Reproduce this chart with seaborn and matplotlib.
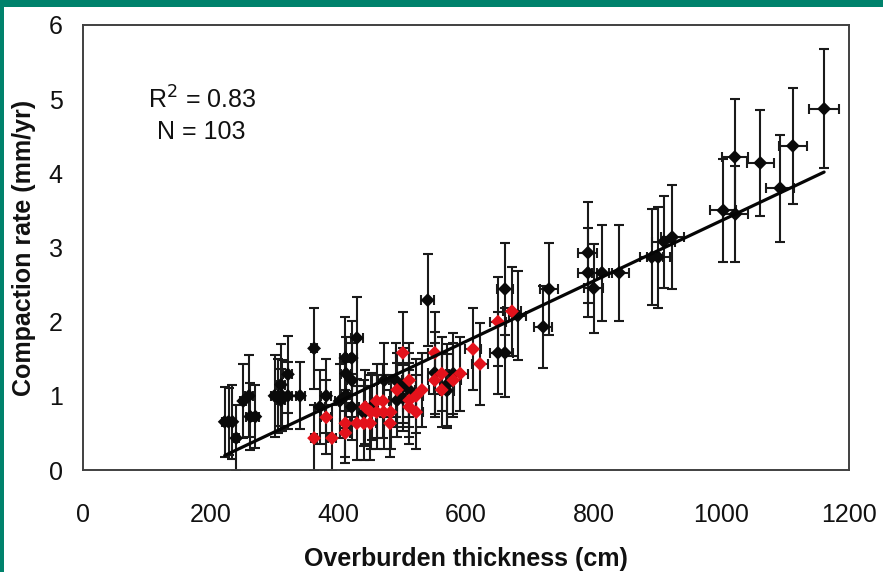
import numpy as np
import pandas as pd
import matplotlib
matplotlib.use("Agg")
import matplotlib.pyplot as plt
import seaborn as sns
from matplotlib.patches import Rectangle

# ---------------- data ----------------
black_x = [222, 228, 234, 240, 251, 260, 262, 270, 300, 306, 312, 310, 310, 321, 321,
           340, 362, 371, 381, 402, 411, 421, 412, 421, 412, 421, 429, 440, 453, 472,
           490, 501, 492, 501, 511, 540, 551, 570, 570, 580, 650, 661, 661, 681, 721,
           730, 791, 791, 800, 813, 840, 891, 901, 910, 923, 1003, 1021, 1022, 1061,
           1092, 1112, 1161]
black_y = [0.65, 0.65, 0.65, 0.43, 0.93, 1.00, 0.72, 0.72, 1.00, 1.00, 1.00, 0.94, 1.15, 1.29, 1.00,
           1.00, 1.64, 0.85, 1.00, 0.93, 1.51, 1.51, 1.30, 1.21, 1.01, 0.85, 1.78, 0.77, 0.86, 1.21,
           1.21, 1.14, 0.94, 0.97, 1.08, 2.29, 1.31, 1.15, 1.07, 1.30, 1.58, 1.58, 2.44, 2.08, 1.93,
           2.44, 2.93, 2.66, 2.45, 2.66, 2.66, 2.87, 2.87, 3.08, 3.14, 3.50, 4.22, 3.45, 4.14,
           3.80, 4.37, 4.87]
black_xerr = [5, 5, 5, 5, 5, 6, 6, 6, 6, 6, 7, 7, 7, 7, 7,
              7, 5, 8, 8, 8, 8, 8, 8, 8, 8, 8, 9, 9, 9, 10,
              10, 10, 10, 10, 10, 10, 11, 11, 11, 11, 13, 13, 13, 13, 14,
              14, 15, 15, 15, 16, 16, 18, 18, 18, 18, 20, 20, 20, 21,
              22, 22, 23]
black_yerr = [0.47, 0.45, 0.50, 0.45, 0.50, 0.55, 0.45, 0.42, 0.55, 0.50, 0.48, 0.42, 0.55, 0.52, 0.45,
              0.45, 0.55, 0.50, 0.50, 0.50, 0.55, 0.50, 0.50, 0.50, 0.45, 0.45, 0.55, 0.45, 0.45, 0.50,
              0.50, 0.50, 0.50, 0.45, 0.50, 0.62, 0.55, 0.55, 0.50, 0.55, 0.55, 0.60, 0.62, 0.60, 0.55,
              0.62, 0.68, 0.60, 0.60, 0.65, 0.65, 0.65, 0.68, 0.62, 0.70, 0.70, 0.78, 0.65, 0.72,
              0.72, 0.78, 0.80]

red_x = [362, 381, 390, 411, 411, 429, 440, 450, 442, 460, 470, 451, 460, 471, 482, 481,
         501, 511, 511, 522, 511, 522, 531, 492, 551, 551, 562, 562, 580, 591, 611, 622,
         650, 672]
red_y = [0.43, 0.71, 0.43, 0.63, 0.50, 0.63, 0.63, 0.63, 0.85, 0.93, 0.93, 0.78, 0.78, 0.78, 0.78, 0.63,
         1.58, 1.21, 0.94, 1.00, 0.85, 0.78, 1.08, 1.08, 1.58, 1.21, 1.30, 1.08, 1.21, 1.30, 1.63, 1.43,
         2.00, 2.14]
red_xerr = [5, 8, 6, 8, 8, 9, 9, 9, 9, 10, 10, 9, 10, 10, 10, 10,
            10, 10, 10, 11, 10, 11, 11, 10, 11, 11, 12, 12, 12, 12, 13, 13,
            13, 14]
red_yerr = [0.45, 0.50, 0.45, 0.45, 0.40, 0.50, 0.50, 0.50, 0.50, 0.50, 0.50, 0.50, 0.50, 0.50, 0.50, 0.45,
            0.55, 0.50, 0.50, 0.50, 0.50, 0.50, 0.50, 0.50, 0.55, 0.50, 0.50, 0.50, 0.50, 0.50, 0.55, 0.55,
            0.60, 0.60]

x_ticks = [0, 200, 400, 600, 800, 1000, 1200]
y_ticks = [0, 1, 2, 3, 4, 5, 6]
annotation_lines = ["R$^2$ = 0.83", "N = 103"]
x_label = "Overburden thickness (cm)"
y_label = "Compaction rate (mm/yr)"

# ---------------- build table ----------------
df = pd.DataFrame({
    "x": black_x + red_x,
    "y": black_y + red_y,
    "xerr": black_xerr + red_xerr,
    "yerr": black_yerr + red_yerr,
    "group": ["black"] * len(black_x) + ["red"] * len(red_x),
})

sns.set_theme(style="white")
plt.rcParams["font.family"] = ["Liberation Sans", "DejaVu Sans"]

fig = plt.figure(figsize=(8.83, 5.72), dpi=100)
fig.patch.set_facecolor("white")
ax = fig.add_axes([83 / 883, 1 - 470 / 572, 766 / 883, 445 / 572])

# green frame (top and left bands)
fig.patches.append(Rectangle((0, 1 - 7 / 572), 1, 7 / 572, transform=fig.transFigure,
                             facecolor="#00826c", edgecolor="none", zorder=10))
fig.patches.append(Rectangle((0, 0), 4 / 883, 1, transform=fig.transFigure,
                             facecolor="#00826c", edgecolor="none", zorder=10))

ebar_col = "#1a1a1a"
ax.errorbar(df["x"], df["y"], xerr=df["xerr"], yerr=df["yerr"], fmt="none",
            ecolor=ebar_col, elinewidth=1.5, capsize=3.8, capthick=1.5, zorder=2)

sns.scatterplot(data=df, x="x", y="y", hue="group",
                palette={"black": "#0a0a0a", "red": "#e3121b"},
                marker="D", s=50, linewidth=0, legend=False, ax=ax, zorder=3)

sns.regplot(data=df, x="x", y="y", scatter=False, ci=None, ax=ax,
            line_kws={"color": "#050505", "linewidth": 2.3, "zorder": 4})

ax.set_xlim(0, 1200)
ax.set_ylim(0, 6)
ax.set_xticks(x_ticks)
ax.set_yticks(y_ticks)
ax.set_xticklabels([str(v) for v in x_ticks])
ax.set_yticklabels([str(v) for v in y_ticks])
ax.tick_params(axis="both", direction="out", length=6, width=1.3, color="#404040",
               labelsize=18, labelcolor="#111111")
ax.tick_params(axis="x", pad=18)
ax.tick_params(axis="y", pad=8.5)

for sp in ax.spines.values():
    sp.set_color("#404040")
    sp.set_linewidth(1.4)
    sp.set_visible(True)

ax.set_xlabel(x_label, fontsize=18, fontweight="bold", color="#111111")
ax.set_ylabel(y_label, fontsize=18, fontweight="bold", color="#111111")
ax.xaxis.set_label_coords(0.5, -0.172)
ax.yaxis.set_label_coords(-0.062, 0.5)

ax.text(186, 4.99, annotation_lines[0], fontsize=18, ha="center", va="center", color="#111111")
ax.text(186, 4.56, annotation_lines[1], fontsize=18, ha="center", va="center", color="#111111")

ax.grid(False)
fig.savefig("out.png", dpi=100, facecolor="white")
